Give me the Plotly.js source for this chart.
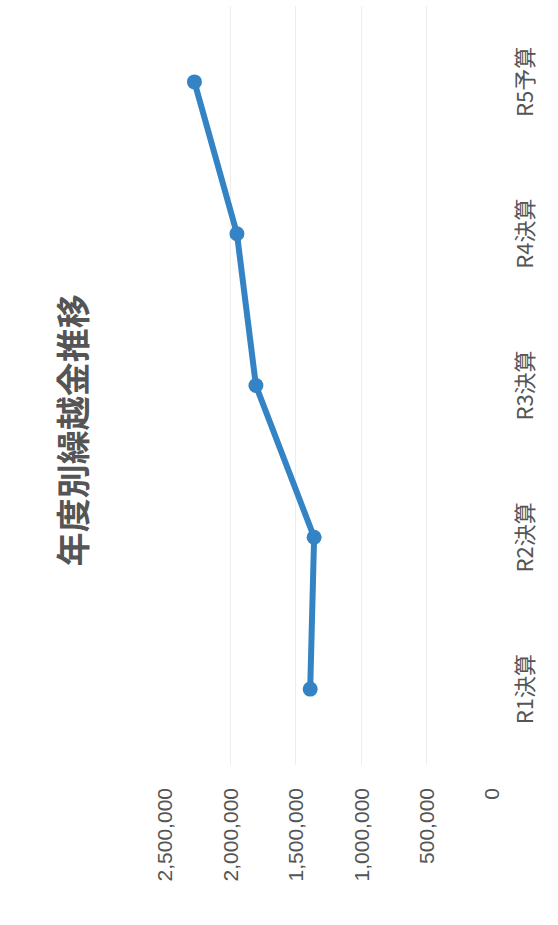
<!DOCTYPE html>
<html>
<head>
<meta charset="utf-8">
<script src="https://cdn.plot.ly/plotly-3.0.1.min.js"></script>
<style>
  html, body { margin: 0; padding: 0; background: #ffffff; width: 558px; height: 925px; overflow: hidden; }
  #wrap { position: absolute; left: 0; top: 0; width: 925px; height: 558px;
          transform-origin: 0 0; transform: translate(0px, 925px) rotate(-90deg); }
  #chart { width: 925px; height: 558px; }
</style>
</head>
<body>
<div id="wrap"><div id="chart"></div></div>
<script>
const categories = ["R1決算", "R2決算", "R3決算", "R4決算", "R5予算"];
const carryover = [1390000, 1360000, 1805000, 1950000, 2275000];
const valueTicks = [0, 500000, 1000000, 1500000, 2000000, 2500000];
const valueTickLabels = ["0", "500,000", "1,000,000", "1,500,000", "2,000,000", "2,500,000"];
const chartTitle = "年度別繰越金推移";

const trace = {
  type: "scatter",
  mode: "lines+markers",
  x: categories,
  y: carryover,
  line: { color: "#3483c4", width: 6 },
  marker: { color: "#3483c4", size: 15 },
  hoverinfo: "x+y"
};

const layout = {
  width: 925,
  height: 558,
  margin: { l: 160, r: 6, t: 165, b: 66 },
  paper_bgcolor: "#ffffff",
  plot_bgcolor: "#ffffff",
  showlegend: false,
  title: {
    text: chartTitle,
    font: { family: "Noto Sans CJK JP", size: 34, color: "#555555", weight: 700 },
    xref: "container", x: 0.535, xanchor: "center",
    yref: "container", y: 0.868, yanchor: "middle"
  },
  xaxis: {
    type: "category",
    range: [-0.5, 4.5],
    showgrid: false,
    zeroline: false,
    showline: false,
    ticks: "",
    ticklabelstandoff: 18,
    tickfont: { family: "Noto Sans CJK JP", size: 22, color: "#555555" }
  },
  yaxis: {
    range: [0, 2500000],
    tickvals: valueTicks,
    ticktext: valueTickLabels,
    showgrid: true,
    gridcolor: "#ededed",
    gridwidth: 1,
    zeroline: false,
    showline: false,
    ticks: "",
    ticklabelstandoff: 22,
    tickfont: { family: "Liberation Sans", size: 21, color: "#555555" }
  }
};

Plotly.newPlot("chart", [trace], layout, { displayModeBar: false, staticPlot: true });
</script>
</body>
</html>
